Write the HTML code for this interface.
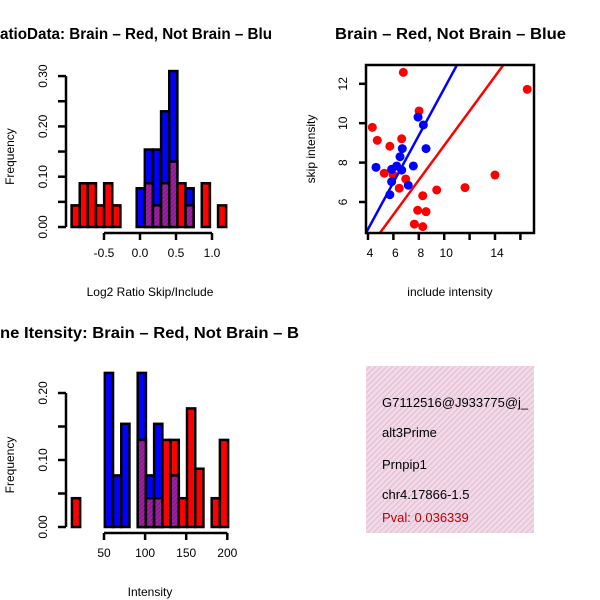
<!DOCTYPE html>
<html><head><meta charset="utf-8"><style>
html,body{margin:0;padding:0;background:#fff}
svg{display:block;font-family:"Liberation Sans",sans-serif}
</style></head><body>
<svg id="c" width="600" height="600" viewBox="0 0 600 600">
<defs>
<pattern id="hatch" width="4" height="4" patternUnits="userSpaceOnUse" patternTransform="rotate(45)">
<rect width="4" height="4" fill="#f7d6ee"/><rect width="1.3" height="4" fill="#d9c9c9"/>
</pattern>
<pattern id="ph" width="3" height="3" patternUnits="userSpaceOnUse" patternTransform="rotate(45)">
<rect width="3" height="3" fill="#a020a0"/><rect width="1" height="3" fill="#7a1a8a"/>
</pattern>
</defs>
<g id="g1"></g>
<g id="g2"></g>
<g id="g3"></g>
<g>
<rect x="366" y="366" width="168" height="167" fill="url(#hatch)"/>
<svg x="366" y="366" width="168" height="167" overflow="hidden">
<text x="16" y="41" font-size="13">G7112516@J933775@j_</text>
<text x="16" y="71" font-size="13">alt3Prime</text>
<text x="16" y="103" font-size="13">Prnpip1</text>
<text x="16" y="133" font-size="13">chr4.17866-1.5</text>
<text x="16" y="156" font-size="13" fill="#c00000">Pval: 0.036339</text>
</svg>
</g>
</svg>
<script>
// ---- Ratio histogram data ----
const ratioRed = [0.043,0.087,0.087,0.043,0.087,0.043,0,0,0,0.087,0.043,0.087,0.13,0.087,0.043,0,0.087,0,0.043];
const ratioBlue = [0,0,0,0,0,0,0,0,0.077,0.154,0.154,0.23,0.31,0,0.077,0,0,0,0];
const ratioBinStart = -0.95;
const ratioBinWidth = 0.113;
const ratioXTicks = [-0.5,0,0.5,1.0];
const ratioXTickLabels = ["-0.5","0.0","0.5","1.0"];
const ratioYTicks = [0,0.05,0.10,0.15,0.20,0.25,0.30];
const ratioYTickLabels = ["0.00","","0.10","","0.20","","0.30"];
// ---- Intensity histogram data ----
const intRed = [0.043,0,0,0,0,0,0,0,0.13,0.043,0.043,0.13,0.13,0.043,0.177,0.087,0,0.043,0.13];
const intBlue = [0,0,0,0,0.23,0.077,0.154,0,0.23,0.077,0.154,0,0.077,0,0,0,0,0,0];
const intBinStart = 11;
const intBinWidth = 10;
const intXTicks = [50,100,150,200];
const intXTickLabels = ["50","100","150","200"];
const intYTicks = [0,0.05,0.10,0.15,0.20];
const intYTickLabels = ["0.00","","0.10","","0.20"];
// ---- Scatter data ----
const redInclude = [6.78,4.34,4.73,5.72,6.65,8.02,5.28,6.97,6.46,8.31,9.41,11.64,14.0,16.54,7.91,8.57,7.65,8.31,5.99];
const redSkip    = [12.58,9.79,9.13,8.83,9.21,10.62,7.46,7.17,6.70,6.32,6.61,6.73,7.37,11.72,5.58,5.51,4.88,4.75,7.37];
const blueInclude = [4.63,5.86,6.26,6.65,6.52,6.70,7.57,8.57,7.94,8.36,5.86,5.72,7.17];
const blueSkip    = [7.76,7.66,7.83,7.62,8.30,8.71,7.83,8.71,10.31,9.91,7.03,6.37,6.85];
const redFit = [0.10,0.877];   // intercept, slope
const blueFit = [-0.14,1.19];
const scXTicks = [4,6,8,10,12,14,16];
const scXTickLabels = ["4","6","8","10","","14",""];
const scYTicks = [6,8,10,12];
const scYTickLabels = ["6","8","10","12"];

const NS="http://www.w3.org/2000/svg";
function mk(parent,tag,attrs,txt){const e=document.createElementNS(NS,tag);for(const k in attrs)e.setAttribute(k,attrs[k]);if(txt!==undefined)e.textContent=txt;parent.appendChild(e);return e;}

function histogram(g,red,blue,binStart,binW,xs,ys,xTicks,xLabels,yTicks,yLabels,title,xlabel,top,base){
  for(let i=0;i<red.length;i++){
    const x0=xs(binStart+i*binW), x1=xs(binStart+(i+1)*binW);
    const r=red[i], b=blue[i];
    const hi=Math.max(r,b), lo=Math.min(r,b);
    if(hi<=0) continue;
    const bar=mk(g,'rect',{x:x0,y:ys(hi),width:x1-x0,height:ys(0)-ys(hi),fill:r>=b?'#ff0000':'#0000ff',stroke:'#000','stroke-width':2.5});
    
    
    if(lo>0){
      const ov=mk(g,'rect',{x:x0,y:ys(lo),width:x1-x0,height:ys(0)-ys(lo),fill:'url(#ph)',stroke:'#000','stroke-width':2.5});
      
      
    }
  }
  const ya=mk(g,'line',{x1:66,x2:66,y1:ys(yTicks[0]),y2:ys(yTicks[yTicks.length-1]),stroke:'#000','stroke-width':2.5});
  
  
  yTicks.forEach((t,i)=>{
    mk(g,'line',{x1:58,x2:66,y1:ys(t),y2:ys(t),stroke:'#000','stroke-width':2.5});
    if(yLabels[i]){const tl=mk(g,'text',{x:0,y:0,'font-size':12,'text-anchor':'middle',transform:`translate(47,${ys(t)}) rotate(-90)`},yLabels[i]);
      
      }
  });
  const xa=mk(g,'line',{x1:xs(xTicks[0]),x2:xs(xTicks[xTicks.length-1]),y1:base,y2:base,stroke:'#000','stroke-width':2.5});
  
  
  xTicks.forEach((t,i)=>{
    mk(g,'line',{x1:xs(t),x2:xs(t),y1:base,y2:base+7,stroke:'#000','stroke-width':2.5});
    const tl=mk(g,'text',{x:xs(t),y:base+24,'font-size':12,'text-anchor':'middle'},xLabels[i]);
    
    
  });
  const yt=mk(g,'text',{x:0,y:0,'font-size':12,'text-anchor':'middle',transform:`translate(14,${(ys(0)+ys(yTicks[yTicks.length-1]))/2+5}) rotate(-90)`},'Frequency');
  
  
  const xt=mk(g,'text',{x:150,y:base+63,'font-size':12,'text-anchor':'middle'},xlabel);
  
  
  const tt=mk(g,'text',{x:0,y:top,'font-size':15.5,'font-weight':'bold',textLength:title[1],lengthAdjust:'spacingAndGlyphs'},title[0]);
  
  
}

{
  const xs=v=>140+72*v, ys=v=>227-503*v;
  histogram(document.getElementById('g1'),ratioRed,ratioBlue,ratioBinStart,ratioBinWidth,xs,ys,ratioXTicks,ratioXTickLabels,ratioYTicks,ratioYTickLabels,["atioData: Brain – Red, Not Brain – Blu",272],"Log2 Ratio Skip/Include",39,233);
}
{
  const xs=v=>104+0.822*(v-50), ys=v=>527-670*v;
  histogram(document.getElementById('g3'),intRed,intBlue,intBinStart,intBinWidth,xs,ys,intXTicks,intXTickLabels,intYTicks,intYTickLabels,["ne Itensity: Brain – Red, Not Brain – B",299],"Intensity",338,533);
}
{
  const g=document.getElementById('g2');
  const xs=v=>368+12.7*(v-4), ys=v=>202-19.7*(v-6);
  const L=366,R=534,T=65,B=233;
  const cp=mk(g,'clipPath',{id:'scclip'});
  mk(cp,'rect',{x:L,y:T,width:R-L,height:B-T});
  const pg=mk(g,'g',{'clip-path':'url(#scclip)'});
  redInclude.forEach((x,i)=>{
    const c=mk(pg,'circle',{cx:xs(x),cy:ys(redSkip[i]),r:4.5,fill:'#ff0000'});
    
    
  });
  blueInclude.forEach((x,i)=>{
    const c=mk(pg,'circle',{cx:xs(x),cy:ys(blueSkip[i]),r:4.5,fill:'#0000ff'});
    
    
  });
  [[blueFit,'#0000ff','blue-fit-line'],[redFit,'#ff0000','red-fit-line']].forEach(([f,col,nm])=>{
    const x0=2,x1=20;
    const l=mk(pg,'line',{x1:xs(x0),y1:ys(f[0]+f[1]*x0),x2:xs(x1),y2:ys(f[0]+f[1]*x1),stroke:col,'stroke-width':2.5});
    
    
  });
  const box=mk(g,'rect',{x:L,y:T,width:R-L,height:B-T,fill:'none',stroke:'#000','stroke-width':2.5});
  
  
  scXTicks.forEach((t,i)=>{
    mk(g,'line',{x1:xs(t),x2:xs(t),y1:B,y2:B+7,stroke:'#000','stroke-width':2.5});
    if(scXTickLabels[i]){const tl=mk(g,'text',{x:xs(t)+2,y:B+24,'font-size':12,'text-anchor':'middle'},scXTickLabels[i]);
      
      }
  });
  scYTicks.forEach((t,i)=>{
    mk(g,'line',{x1:L-7,x2:L,y1:ys(t),y2:ys(t),stroke:'#000','stroke-width':2.5});
    const tl=mk(g,'text',{x:0,y:0,'font-size':12,'text-anchor':'middle',transform:`translate(347,${ys(t)}) rotate(-90)`},scYTickLabels[i]);
    
    
  });
  const xt=mk(g,'text',{x:450,y:296,'font-size':12,'text-anchor':'middle'},'include intensity');
  
  
  const yt=mk(g,'text',{x:0,y:0,'font-size':12,'text-anchor':'middle',transform:'translate(315,149) rotate(-90)'},'skip intensity');
  
  
  const tt=mk(g,'text',{x:335,y:39,'font-size':15.5,'font-weight':'bold',textLength:231,lengthAdjust:'spacingAndGlyphs'},'Brain – Red, Not Brain – Blue');
  
  
}
</script>
</body></html>
